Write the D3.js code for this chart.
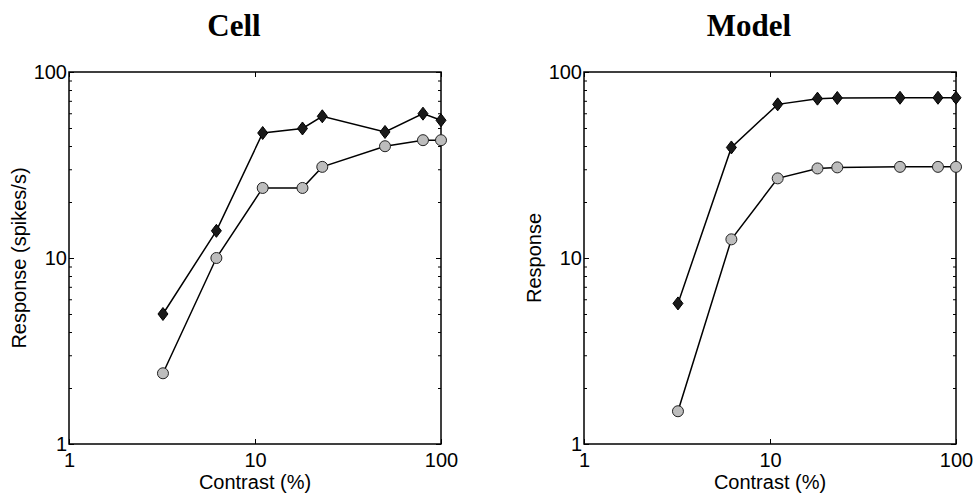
<!DOCTYPE html>
<html lang="en">
<head>
<meta charset="UTF-8">
<title>Cell vs Model contrast response</title>
<script src="https://cdn.jsdelivr.net/npm/d3@7"></script>
<style>
  html, body { margin: 0; padding: 0; background: #fff; }
  svg { display: block; }
  .tick text { font-family: "Liberation Sans", Arial, sans-serif; font-size: 20px; fill: #000; }
  .lbl { font-family: "Liberation Sans", Arial, sans-serif; font-size: 20px; fill: #000; }
  .ttl { font-family: "Liberation Serif", "Times New Roman", serif; font-size: 31px; font-weight: bold; fill: #000; }
</style>
</head>
<body>
<svg id="fig" width="977" height="496"></svg>
<script>
// contrast levels (%)
var contrast = [3.2, 6.2, 11, 18, 23, 50, 80, 100];

// recorded cell (spikes/s)
var cellDiamond = [5.0, 14, 47, 49.7, 57.8, 47.6, 59.7, 55];
var cellCircle  = [2.4, 10, 23.8, 23.8, 30.9, 39.9, 43, 43];

// model output
var modelDiamond = [5.7, 39.3, 67, 71.9, 72.5, 72.7, 72.7, 72.7];
var modelCircle  = [1.5, 12.6, 26.8, 30.3, 30.7, 30.9, 30.9, 30.9];

var majorTicks = [1, 10, 100];
var minorTicks = [2,3,4,5,6,7,8,9,20,30,40,50,60,70,80,90];

var panels = [
  {title: "Cell",  ylabel: "Response (spikes/s)", left: 69,  dia: cellDiamond,  cir: cellCircle},
  {title: "Model", ylabel: "Response",            left: 584, dia: modelDiamond, cir: modelCircle}
];

var svg = d3.select("#fig");
var top0 = 72, size = 372;

panels.forEach(function(p) {
  var x = d3.scaleLog().domain([1, 100]).range([0, size]);
  var y = d3.scaleLog().domain([1, 100]).range([size, 0]);
  var g = svg.append("g").attr("transform", "translate(" + p.left + "," + top0 + ")");

  // box
  g.append("rect").attr("width", size).attr("height", size)
    .attr("fill", "none").attr("stroke", "#000").attr("stroke-width", 1.5);

  // major ticks, inward
  g.append("g").attr("transform", "translate(0," + size + ")")
    .call(d3.axisBottom(x).tickValues(majorTicks).tickFormat(d3.format("d"))
      .tickSizeInner(-5).tickSizeOuter(0).tickPadding(9));
  g.append("g")
    .call(d3.axisTop(x).tickValues(majorTicks).tickFormat("").tickSizeInner(-5).tickSizeOuter(0));
  g.append("g")
    .call(d3.axisLeft(y).tickValues(majorTicks).tickFormat(d3.format("d"))
      .tickSizeInner(-5).tickSizeOuter(0).tickPadding(2));
  g.append("g").attr("transform", "translate(" + size + ",0)")
    .call(d3.axisRight(y).tickValues(majorTicks).tickFormat("").tickSizeInner(-5).tickSizeOuter(0));

  // minor y ticks
  g.append("g")
    .call(d3.axisLeft(y).tickValues(minorTicks).tickFormat("").tickSizeInner(-3).tickSizeOuter(0));
  g.append("g").attr("transform", "translate(" + size + ",0)")
    .call(d3.axisRight(y).tickValues(minorTicks).tickFormat("").tickSizeInner(-3).tickSizeOuter(0));

  g.selectAll(".domain").remove();
  g.selectAll(".tick line").attr("stroke", "#000").attr("stroke-width", 1);

  // lines
  var line = d3.line().x(function(d) { return x(d[0]); }).y(function(d) { return y(d[1]); });
  var dData = d3.zip(contrast, p.dia), cData = d3.zip(contrast, p.cir);
  g.append("path").datum(dData).attr("d", line).attr("fill", "none").attr("stroke", "#000").attr("stroke-width", 1.5);
  g.append("path").datum(cData).attr("d", line).attr("fill", "none").attr("stroke", "#000").attr("stroke-width", 1.5);

  // markers
  g.selectAll(".dia").data(dData).enter().append("path")
    .attr("transform", function(d) { return "translate(" + x(d[0]) + "," + y(d[1]) + ")"; })
    .attr("d", "M0,-6.5L5,0L0,6.5L-5,0Z")
    .attr("fill", "#1a1a1a").attr("stroke", "#000").attr("stroke-width", 1);
  g.selectAll(".cir").data(cData).enter().append("circle")
    .attr("cx", function(d) { return x(d[0]); }).attr("cy", function(d) { return y(d[1]); })
    .attr("r", 5.5).attr("fill", "#bdbdbd").attr("stroke", "#222").attr("stroke-width", 1);

  // labels
  g.append("text").attr("class", "ttl").attr("text-anchor", "middle")
    .attr("x", size / 2 - 21).attr("y", 36 - top0).text(p.title);
  g.append("text").attr("class", "lbl").attr("text-anchor", "middle")
    .attr("x", size / 2).attr("y", 489 - top0).text("Contrast (%)");
  g.append("text").attr("class", "lbl").attr("text-anchor", "middle")
    .attr("transform", "translate(-43," + (size / 2) + ") rotate(-90)").text(p.ylabel);
});
</script>
</body>
</html>
